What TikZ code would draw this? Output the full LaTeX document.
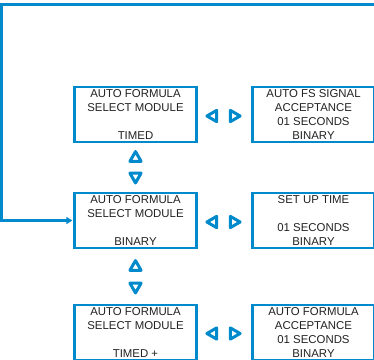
\documentclass[tikz,border=0pt]{standalone}
\usepackage{fontspec}
\setmainfont{Liberation Sans}
\usetikzlibrary{arrows.meta,shapes.geometric}
\definecolor{panelblue}{RGB}{0,138,204}
\definecolor{paneltext}{RGB}{34,34,34}

\begin{document}
\begin{tikzpicture}[
    x=1pt, y=-1pt,
    font=\fontsize{11.4}{14}\selectfont,
    lcd/.style={draw=panelblue, line width=2.3pt, minimum width=122pt,
                minimum height=55pt, inner sep=0pt, align=center,
                text=paneltext},
    btn/.style={draw=panelblue, line width=3pt, line join=round,
                regular polygon, regular polygon sides=3,
                minimum size=13pt, inner sep=0pt},
    btnleft/.style={btn, shape border rotate=90},
    btnright/.style={btn, shape border rotate=-90},
    btnup/.style={btn},
    btndown/.style={btn, shape border rotate=180},
    wrap/.style={draw=panelblue, line width=2.6pt,
                 -{Triangle[length=6pt,width=7pt]}, shorten >=1pt},
  ]

  % --- Page -----------------------------------------------------------------
  \fill[white] (0,0) rectangle (374,359);
  \useasboundingbox (0,0) rectangle (374,359);
  \clip (0,0) rectangle (374,359);

  % --- Screens --------------------------------------------------------------
  \node[lcd] (sel1) at (135.5,114.5) {AUTO FORMULA\\SELECT MODULE\\\mbox{}\\TIMED};
  \node[lcd] (fs1)  at (313.5,114.5) {AUTO FS SIGNAL\\ACCEPTANCE\\01 SECONDS\\BINARY};

  \node[lcd] (sel2) at (135.5,220.5) {AUTO FORMULA\\SELECT MODULE\\\mbox{}\\BINARY};
  \node[lcd] (set2) at (313.5,220.5) {SET UP TIME\\\mbox{}\\01 SECONDS\\BINARY};

  \node[lcd] (sel3) at (135.5,332.5) {AUTO FORMULA\\SELECT MODULE\\\mbox{}\\TIMED +};
  \node[lcd] (acc3) at (313.5,332.5) {AUTO FORMULA\\ACCEPTANCE\\01 SECONDS\\BINARY};

  % --- Keys -----------------------------------------------------------------
  \foreach \r/\y in {1/116, 2/222, 3/333.5} {
    \node[btnleft]  (prev\r) at (213.4,\y) {};
    \node[btnright] (next\r) at (233.6,\y) {};
  }
  \foreach \r/\y in {1/158.1, 2/267.1}
    \node[btnup] (up\r) at (135.5,\y) {};
  \foreach \r/\y in {1/176.4, 2/286.4}
    \node[btndown] (down\r) at (135.5,\y) {};

  % --- Return path ----------------------------------------------------------
  \coordinate (wrapin) at (380,4.5);
  \draw[wrap] (wrapin) -- (1.5,4.5) |- (sel2.west);

\end{tikzpicture}
\end{document}
